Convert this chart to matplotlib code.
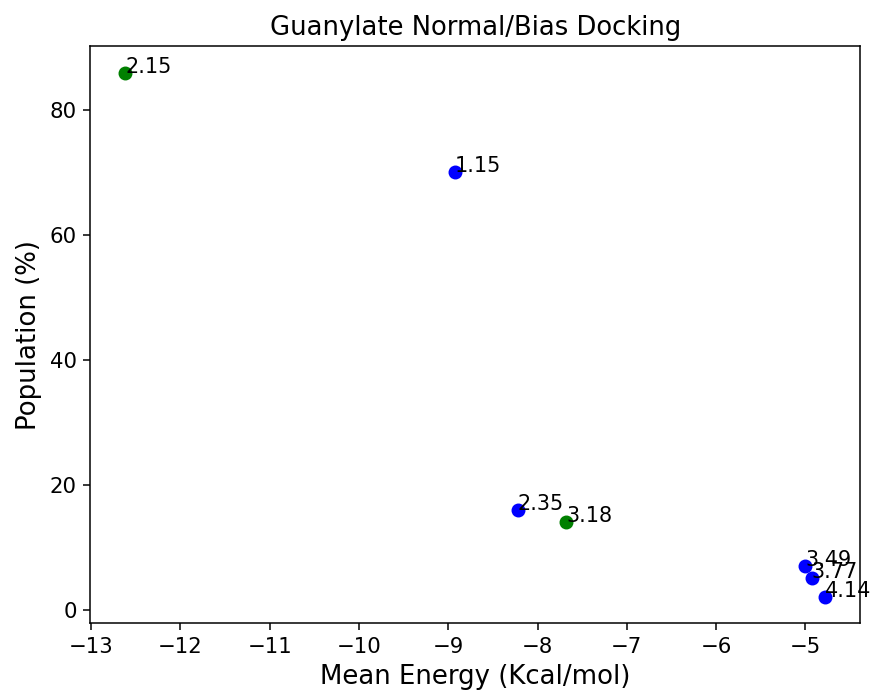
import matplotlib
matplotlib.use('Agg')
import matplotlib.pyplot as plt

# normal docking (blue)
energia_normal = [-8.93, -8.22, -5.00, -4.93, -4.78]
poblacion_normal = [70, 16, 7, 5, 2]
etiquetas_normal = ['1.15', '2.35', '3.49', '3.77', '4.14']

# bias docking (green)
energia_bias = [-12.62, -7.68]
poblacion_bias = [86, 14]
etiquetas_bias = ['2.15', '3.18']

dpi = 137
fig = plt.figure(figsize=(875 / dpi, 691 / dpi), dpi=dpi)
ax = fig.add_axes([0.103, 0.098, 0.880, 0.835])

ax.scatter(energia_bias, poblacion_bias, color='green', s=40)
ax.scatter(energia_normal, poblacion_normal, color='blue', s=40)

for x, y, t in zip(energia_bias, poblacion_bias, etiquetas_bias):
    ax.text(x, y, t, fontsize=10.9)
for x, y, t in zip(energia_normal, poblacion_normal, etiquetas_normal):
    ax.text(x, y, t, fontsize=10.9)

ax.set_title('Guanylate Normal/Bias Docking', fontsize=13.6)
ax.set_xlabel('Mean Energy (Kcal/mol)', fontsize=13.7)
ax.set_ylabel('Population (%)', fontsize=13.7)
ax.tick_params(labelsize=11.2)

fig.savefig('out.png', dpi=dpi)
